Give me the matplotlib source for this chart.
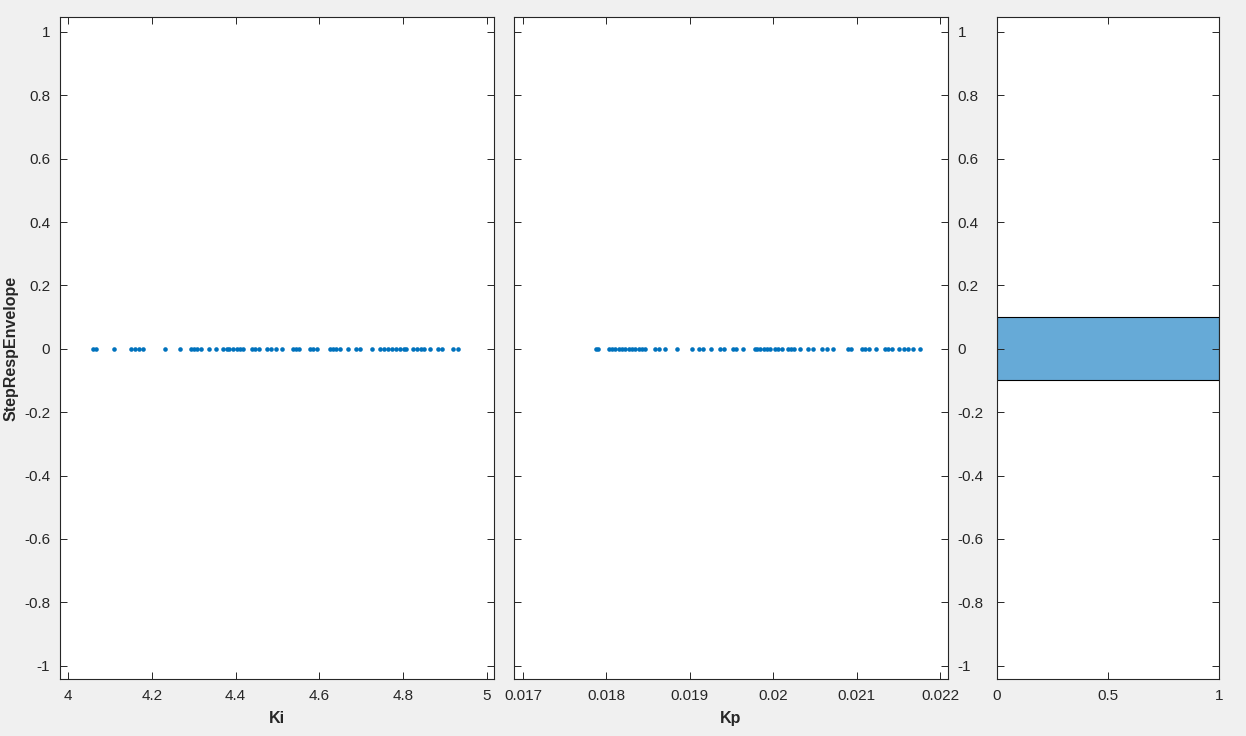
import numpy as np
import matplotlib
matplotlib.use('Agg')
import matplotlib.pyplot as plt

plt.rcParams['font.family'] = ['Liberation Sans', 'DejaVu Sans']

# ---- data ----
ki = [4.060, 4.068, 4.110, 4.151, 4.161, 4.170, 4.180, 4.231, 4.267,
      4.294, 4.301, 4.307, 4.318, 4.337, 4.353, 4.371, 4.379, 4.385,
      4.395, 4.403, 4.410, 4.418, 4.439, 4.447, 4.455, 4.474, 4.484,
      4.496, 4.512, 4.536, 4.544, 4.552, 4.578, 4.585, 4.594, 4.625,
      4.633, 4.641, 4.649, 4.669, 4.687, 4.697, 4.726, 4.745, 4.754,
      4.764, 4.773, 4.783, 4.792, 4.802, 4.808, 4.823, 4.832, 4.842,
      4.851, 4.864, 4.884, 4.894, 4.918, 4.931]
kp = [0.01787, 0.01790, 0.018029, 0.018069, 0.018109, 0.018148, 0.018188,
      0.018228, 0.018268, 0.018307, 0.018347, 0.018387, 0.018426, 0.018466,
      0.018585, 0.018633, 0.018704, 0.018851, 0.019022, 0.019110, 0.019157,
      0.019249, 0.019368, 0.019408, 0.019515, 0.019554, 0.019634, 0.019777,
      0.019805, 0.019845, 0.019884, 0.019924, 0.019964, 0.020016, 0.020063,
      0.020103, 0.020174, 0.020214, 0.020254, 0.020322, 0.020421, 0.020480,
      0.020580, 0.020639, 0.020719, 0.020898, 0.020937, 0.021064, 0.021104,
      0.021144, 0.021235, 0.021335, 0.021374, 0.021422, 0.021513, 0.021565,
      0.021613, 0.021680, 0.021764]
ki_env = np.zeros(len(ki))
kp_env = np.zeros(len(kp))

hist_edges = [-0.1, 0.1]
hist_counts = [1.0]

yticks = [-1, -0.8, -0.6, -0.4, -0.2, 0, 0.2, 0.4, 0.6, 0.8, 1]
ytick_labels = ['-1', '-0.8', '-0.6', '-0.4', '-0.2', '0', '0.2', '0.4', '0.6', '0.8', '1']
ki_ticks = [4, 4.2, 4.4, 4.6, 4.8, 5]
ki_labels = ['4', '4.2', '4.4', '4.6', '4.8', '5']
kp_ticks = [0.017, 0.018, 0.019, 0.020, 0.021, 0.022]
kp_labels = ['0.017', '0.018', '0.019', '0.02', '0.021', '0.022']

# ---- style ----
BG = '#F0F0F0'
AX = '#262626'
BLUE = '#0072BD'
HIST = '#66AAD7'
YLIM = (-1.042, 1.047)

fig = plt.figure(figsize=(12.46, 7.36), dpi=100)
fig.patch.set_facecolor(BG)

H = 662 / 736
B = 1 - 679 / 736
ax1 = fig.add_axes([60 / 1246, B, 434 / 1246, H])
ax2 = fig.add_axes([514 / 1246, B, 434 / 1246, H])
ax3 = fig.add_axes([997 / 1246, B, 222 / 1246, H])


def style(ax):
    ax.set_facecolor('white')
    for s in ax.spines.values():
        s.set_color(AX)
        s.set_linewidth(0.8)
    ax.tick_params(direction='in', length=5, width=0.7, color=AX,
                   labelcolor=AX, labelsize=11, top=True, right=True,
                   pad=7)
    ax.set_ylim(*YLIM)
    ax.set_yticks(yticks)


style(ax1)
style(ax2)
style(ax3)

# left: Ki
ax1.plot(ki, ki_env, 'o', color=BLUE, markersize=3.3, markeredgewidth=0)
ax1.set_xlim(3.981, 5.017)
ax1.set_xticks(ki_ticks)
ax1.set_xticklabels(ki_labels)
ax1.set_yticklabels(ytick_labels)
ax1.set_xlabel('Ki', fontweight='bold', fontsize=11.5, color=AX, labelpad=6)
ax1.set_ylabel('StepRespEnvelope', fontweight='bold', fontsize=11.5,
               color=AX, labelpad=4)

# middle: Kp
ax2.plot(kp, kp_env, 'o', color=BLUE, markersize=3.3, markeredgewidth=0)
ax2.set_xlim(0.016893, 0.022095)
ax2.set_xticks(kp_ticks)
ax2.set_xticklabels(kp_labels)
ax2.yaxis.tick_right()
ax2.tick_params(axis='y', left=True, right=True, labelleft=False,
                labelright=True)
ax2.set_yticklabels(ytick_labels)
ax2.set_xlabel('Kp', fontweight='bold', fontsize=11.5, color=AX, labelpad=6)

# right: histogram of the envelope values
ax3.barh(hist_edges[0], hist_counts[0],
         height=hist_edges[1] - hist_edges[0], align='edge',
         color=HIST, edgecolor='black', linewidth=0.8)
ax3.set_xlim(0, 1)
ax3.set_xticks([0, 0.5, 1])
ax3.set_xticklabels(['0', '0.5', '1'])
ax3.tick_params(axis='y', labelleft=False)

fig.savefig('out.png', dpi=100, facecolor=BG)
